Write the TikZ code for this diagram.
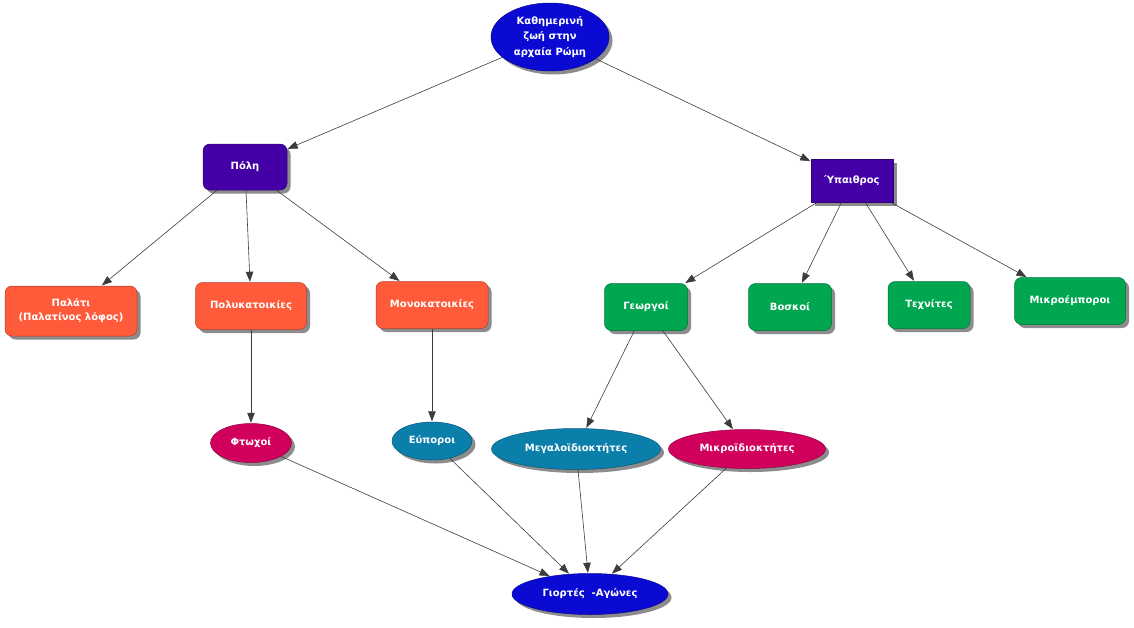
\documentclass[tikz,border=0pt]{standalone}
\usepackage{fontspec}
\setmainfont{DejaVu Sans}
\usetikzlibrary{shapes.geometric,arrows.meta,shadows}
\definecolor{cblue}{HTML}{0A0AD2}
\definecolor{cpurple}{HTML}{4400A6}
\definecolor{corange}{HTML}{FF5A3A}
\definecolor{cgreen}{HTML}{00A650}
\definecolor{cteal}{HTML}{0A7FAA}
\definecolor{cmag}{HTML}{D0005C}
\definecolor{cline}{HTML}{3C3C3C}
\tikzset{
  base/.style={text=white, font=\fontsize{10}{14}\selectfont\bfseries, align=center, inner sep=0pt,
    drop shadow={shadow xshift=3.5pt, shadow yshift=-3.5pt, fill=black!45, opacity=1}},
  ell/.style={base, ellipse, draw=#1!70!black, line width=0.5pt, fill=#1},
  rbox/.style={base, rectangle, rounded corners=7pt, draw=#1!70!black, line width=0.5pt, fill=#1},
  sbox/.style={base, rectangle, draw=#1!70!black, line width=0.5pt, fill=#1},
  conn/.style={draw=cline, line width=0.6pt, -{Triangle[length=10pt,width=7.5pt]}, shorten >=0.5pt}
}
\begin{document}
\begin{tikzpicture}[x=1pt,y=-1pt]
\useasboundingbox (0,0) rectangle (1134,627);
\node[ell=cblue, minimum width=118pt, minimum height=68pt, font=\fontsize{10}{15.5}\selectfont\bfseries] (root) at (550,37) {Καθημερινή\\ζωή στην\\αρχαία Ρώμη};
\node[rbox=cpurple, minimum width=84pt, minimum height=46pt] (poli) at (245,167) {Πόλη};
\node[sbox=cpurple, minimum width=82pt, minimum height=43pt] (ypaithros) at (852,181) {Ύπαιθρος};
\node[rbox=corange, minimum width=132pt, minimum height=50pt] (palati) at (71,311) {Παλάτι\\(Παλατίνος λόφος)};
\node[rbox=corange, minimum width=111pt, minimum height=47pt] (polyk) at (251,306) {Πολυκατοικίες};
\node[rbox=corange, minimum width=112pt, minimum height=47pt] (monok) at (432,305) {Μονοκατοικίες};
\node[rbox=cgreen, minimum width=83pt, minimum height=47pt] (georgoi) at (646,307) {Γεωργοί};
\node[rbox=cgreen, minimum width=83pt, minimum height=47pt] (voskoi) at (790,307) {Βοσκοί};
\node[rbox=cgreen, minimum width=82pt, minimum height=47pt] (texnites) at (929,305) {Τεχνίτες};
\node[rbox=cgreen, minimum width=111pt, minimum height=47pt] (mikroemp) at (1070,301) {Μικροέμποροι};
\node[ell=cmag, minimum width=81pt, minimum height=39pt] (ftwxoi) at (251,443) {Φτωχοί};
\node[ell=cteal, minimum width=80pt, minimum height=38pt] (eyporoi) at (432,441) {Εύποροι};
\node[ell=cteal, minimum width=169pt, minimum height=41pt] (megalo) at (576,449) {Μεγαλοϊδιοκτήτες};
\node[ell=cmag, minimum width=157pt, minimum height=39pt] (mikroid) at (747,449) {Μικροϊδιοκτήτες};
\node[ell=cblue, minimum width=156pt, minimum height=41pt] (giortes) at (590,594) {Γιορτές \ -Αγώνες};
\draw[conn] (root) -- (poli);
\draw[conn] (root) -- (ypaithros);
\draw[conn] (poli) -- (palati);
\draw[conn] (poli) -- (polyk);
\draw[conn] (poli) -- (monok);
\draw[conn] (ypaithros) -- (georgoi);
\draw[conn] (ypaithros) -- (voskoi);
\draw[conn] (ypaithros) -- (texnites);
\draw[conn] (ypaithros) -- (mikroemp);
\draw[conn] (polyk) -- (ftwxoi);
\draw[conn] (monok) -- (eyporoi);
\draw[conn] (georgoi) -- (megalo);
\draw[conn] (georgoi) -- (mikroid);
\draw[conn] (ftwxoi) -- (giortes);
\draw[conn] (eyporoi) -- (giortes);
\draw[conn] (megalo) -- (giortes);
\draw[conn] (mikroid) -- (giortes);
\end{tikzpicture}
\end{document}
